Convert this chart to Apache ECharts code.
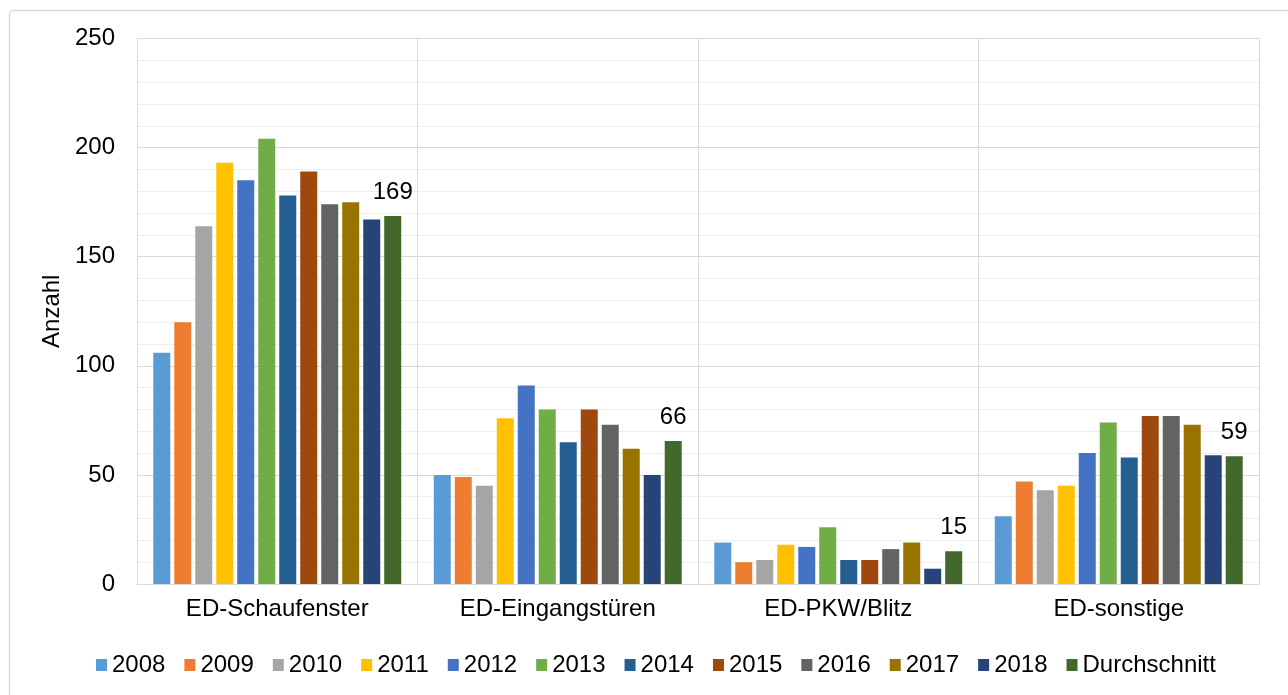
<!DOCTYPE html>
<html>
<head>
    <meta charset="utf-8">
    <title>Anzahl ED</title>
    <script src="https://cdn.jsdelivr.net/npm/echarts@6/dist/echarts.min.js"></script>
    <style>
        html, body { margin: 0; padding: 0; background: #fff; }
        #chart { width: 1288px; height: 695px; }
    </style>
</head>
<body>
<div id="chart"></div>
<script>
    // Kategorien und Werte
    var categories = ['ED-Schaufenster', 'ED-Eingangstüren', 'ED-PKW/Blitz', 'ED-sonstige'];
    var seriesNames = ['2008', '2009', '2010', '2011', '2012', '2013', '2014', '2015', '2016', '2017', '2018', 'Durchschnitt'];
    var v2008 = [106, 50, 19, 31];
    var v2009 = [120, 49, 10, 47];
    var v2010 = [164, 45, 11, 43];
    var v2011 = [193, 76, 18, 45];
    var v2012 = [185, 91, 17, 60];
    var v2013 = [204, 80, 26, 74];
    var v2014 = [178, 65, 11, 58];
    var v2015 = [189, 80, 11, 77];
    var v2016 = [174, 73, 16, 77];
    var v2017 = [175, 62, 19, 73];
    var v2018 = [167, 50, 7, 59];
    var vAvg = [168.6, 65.5, 15, 58.5];
    var yTicks = [0, 50, 100, 150, 200, 250];

    var colors = ['#5B9BD5', '#ED7D31', '#A5A5A5', '#FFC000', '#4472C4', '#70AD47',
                  '#255E91', '#9E480E', '#636363', '#997300', '#264478', '#43682B'];
    var allValues = [v2008, v2009, v2010, v2011, v2012, v2013, v2014, v2015, v2016, v2017, v2018, vAvg];

    var font = 'Liberation Sans, Arial, sans-serif';

    var series = seriesNames.map(function(name, i) {
        var s = {
            name: name,
            type: 'bar',
            data: allValues[i],
            barWidth: 17,
            barGap: '23.5%',
            itemStyle: { color: colors[i] }
        };
        if (name === 'Durchschnitt') {
            s.label = {
                show: true,
                position: 'top',
                distance: 12,
                color: '#000',
                fontFamily: font,
                fontSize: 24,
                formatter: function(p) { return Math.round(p.value); }
            };
        }
        return s;
    });

    var chart = echarts.init(document.getElementById('chart'));
    var option = {
        animation: false,
        color: colors,
        textStyle: { fontFamily: font },
        graphic: [{
            type: 'rect',
            left: 7, top: 8,
            shape: { width: 1300, height: 700, r: 4 },
            style: { fill: 'none', stroke: '#D9D9D9', lineWidth: 1.5 },
            silent: true
        }],
        grid: { left: 137, right: 29, top: 38.5, bottom: 111 },
        legend: {
            data: seriesNames,
            top: 648,
            left: 91,
            icon: 'rect',
            itemWidth: 11,
            itemHeight: 12,
            itemGap: 19,
            textStyle: { color: '#000', fontSize: 24, fontFamily: font }
        },
        xAxis: {
            type: 'category',
            data: categories,
            axisTick: { show: false },
            axisLine: { lineStyle: { color: '#D9D9D9', width: 1 } },
            splitLine: { show: true, lineStyle: { color: '#D9D9D9' } },
            axisLabel: { color: '#000', fontSize: 24, margin: 13, fontFamily: font }
        },
        yAxis: {
            type: 'value',
            min: yTicks[0],
            max: yTicks[yTicks.length - 1],
            interval: 50,
            name: 'Anzahl',
            nameLocation: 'middle',
            nameGap: 72,
            nameTextStyle: { color: '#000', fontSize: 24, fontFamily: font },
            axisLine: { show: true, lineStyle: { color: '#D9D9D9' } },
            axisTick: { show: false },
            axisLabel: { color: '#000', fontSize: 24, margin: 22, fontFamily: font },
            splitLine: { lineStyle: { color: '#D9D9D9' } },
            minorTick: { show: false, splitNumber: 5 },
            minorSplitLine: { show: true, lineStyle: { color: '#EEEEEE' } }
        },
        series: series
    };
    chart.setOption(option);
</script>
</body>
</html>
